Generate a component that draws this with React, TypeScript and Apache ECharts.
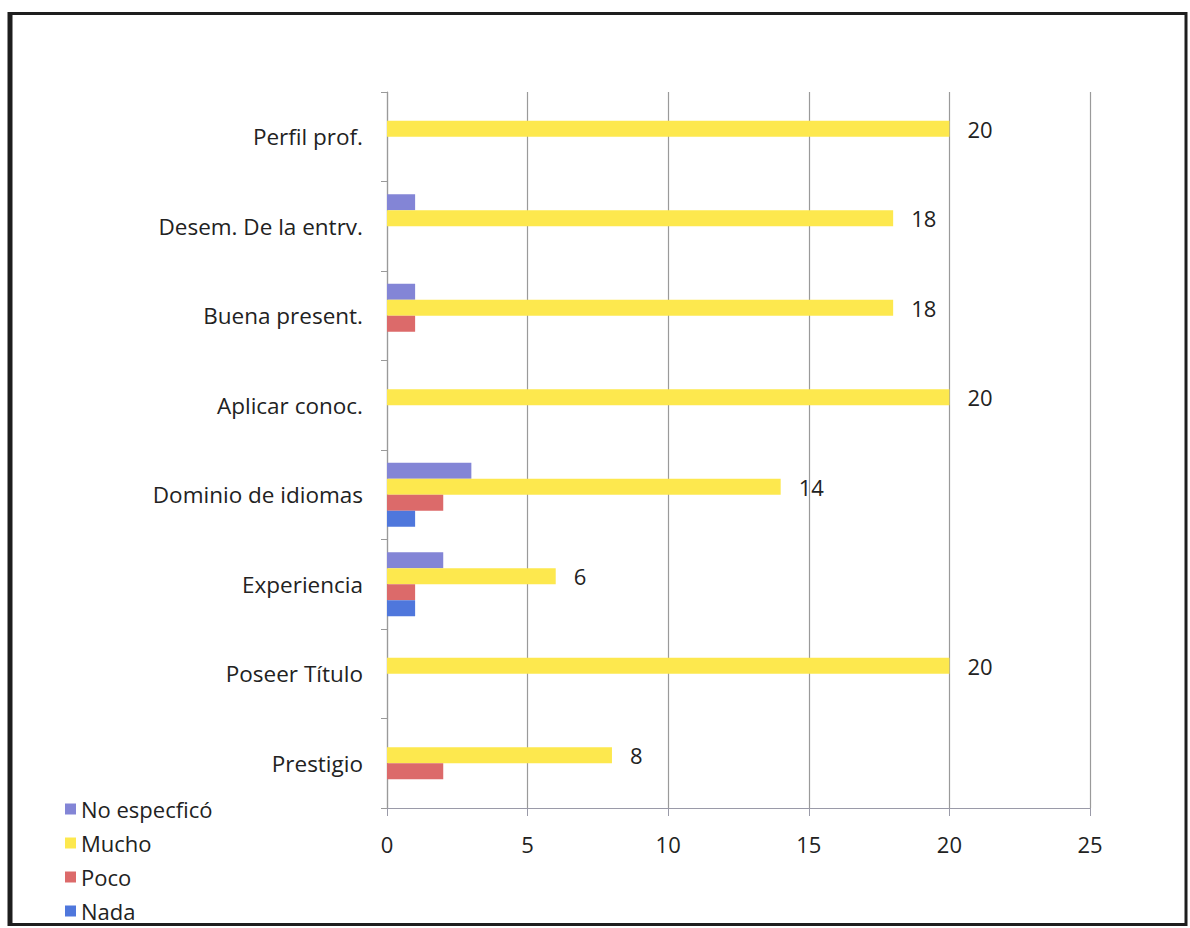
import React, { useEffect, useRef } from "react";
import * as echarts from "echarts";

const categories = [
  "Perfil prof.",
  "Desem. De la entrv.",
  "Buena present.",
  "Aplicar conoc.",
  "Dominio de idiomas",
  "Experiencia",
  "Poseer Título",
  "Prestigio",
];

const noEspecifico = [0, 1, 1, 0, 3, 2, 0, 0];
const mucho = [20, 18, 18, 20, 14, 6, 20, 8];
const poco = [0, 0, 1, 0, 2, 1, 0, 2];
const nada = [0, 0, 0, 0, 1, 1, 0, 0];

const xTicks = [0, 5, 10, 15, 20, 25];

const FONT = "'Open Sans', 'Noto Sans', sans-serif";

export default function App() {
  const ref = useRef<HTMLDivElement>(null);

  useEffect(() => {
    if (!ref.current) return;
    const chart = echarts.init(ref.current, undefined, { renderer: "svg" });

    const barBase = {
      type: "bar" as const,
      barWidth: 16,
      barGap: "0%",
    };

    chart.setOption({
      animation: false,
      backgroundColor: "#ffffff",
      textStyle: { fontFamily: FONT },
      grid: { left: 387, right: 100, top: 92, bottom: 120, containLabel: false },
      legend: {
        orient: "vertical",
        left: 60,
        top: 792,
        height: 300,
        itemWidth: 11,
        itemHeight: 11,
        itemGap: 10,
        icon: "rect",
        data: ["No especficó", "Mucho", "Poco", "Nada"],
        textStyle: { fontFamily: FONT, fontSize: 22, lineHeight: 24, color: "#222" },
      },
      xAxis: {
        type: "value",
        min: xTicks[0],
        max: xTicks[xTicks.length - 1],
        interval: 5,
        axisLine: { show: true, lineStyle: { color: "#9a9aa8", width: 1.2 } },
        axisTick: { show: true, length: 8, lineStyle: { color: "#9a9aa8" } },
        axisLabel: { margin: 25, fontSize: 22, color: "#222", fontFamily: FONT },
        splitLine: { show: true, lineStyle: { color: "#9a9a9a", width: 1.2 } },
      },
      yAxis: {
        type: "category",
        data: categories,
        inverse: true,
        axisLine: { show: true, lineStyle: { color: "#9a9a9a", width: 1.2 } },
        axisTick: { show: true, length: 6, lineStyle: { color: "#9a9a9a" } },
        axisLabel: {
          margin: 24,
          fontSize: 22.5,
          color: "#222",
          fontFamily: FONT,
          padding: [8, 0, 0, 0],
        },
      },
      graphic: [
        {
          type: "rect",
          z: -10,
          shape: { x: 10, y: 13.5, width: 1176, height: 911 },
          style: { fill: "none", stroke: "#1e1e1e", lineWidth: 3 },
          silent: true,
        },
        {
          type: "line",
          z: -10,
          shape: { x1: 10, y1: 12, x2: 10, y2: 926 },
          style: { stroke: "#1e1e1e", lineWidth: 5 },
          silent: true,
        },
      ],
      series: [
        {
          ...barBase,
          name: "No especficó",
          data: noEspecifico,
          itemStyle: { color: "#8385d6" },
        },
        {
          ...barBase,
          name: "Mucho",
          data: mucho,
          itemStyle: { color: "#fde84e" },
          label: {
            show: true,
            position: "right",
            distance: 18,
            fontSize: 22,
            color: "#222",
            fontFamily: FONT,
          },
        },
        {
          ...barBase,
          name: "Poco",
          data: poco,
          itemStyle: { color: "#dc6a6a" },
        },
        {
          ...barBase,
          name: "Nada",
          data: nada,
          itemStyle: { color: "#4f77dc" },
        },
      ],
    });

    return () => chart.dispose();
  }, []);

  return (
    <div
      ref={ref}
      style={{ position: "absolute", left: 0, top: 0, width: 1190, height: 928 }}
    />
  );
}
